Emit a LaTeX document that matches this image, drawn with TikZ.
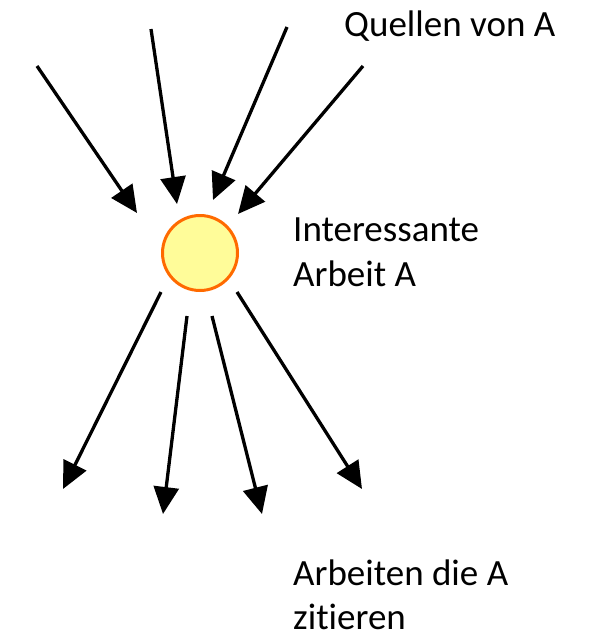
\documentclass[tikz,border=0pt]{standalone}
\usepackage{fontspec}
\setmainfont{Carlito}[Ligatures=NoCommon]
\usetikzlibrary{arrows.meta}
\definecolor{paperfill}{HTML}{FFFC99}
\definecolor{paperedge}{HTML}{FF6A00}
\tikzset{
  cite/.style={line width=3.3pt, draw=black,
    -{Triangle[length=27pt,width=25pt]}},
  label/.style={anchor=base west, inner sep=0pt, align=left,
    font=\fontsize{37}{45}\selectfont},
  paper/.style={circle, minimum size=75pt, inner sep=0pt,
    fill=paperfill, draw=paperedge, line width=3pt}
}
\begin{document}
\begin{tikzpicture}[x=1pt,y=-1pt]
  \useasboundingbox (0,0) rectangle (592,637);
  \node[paper] (a) at (200,253) {};

  % sources of A
  \coordinate (s1) at (37,66);   \coordinate (t1) at (137,213);
  \coordinate (s2) at (151,29);  \coordinate (t2) at (177,204);
  \coordinate (s3) at (287,27);  \coordinate (t3) at (213,200);
  \coordinate (s4) at (363,66);  \coordinate (t4) at (238,214);
  \foreach \i in {1,...,4} \draw[cite] (s\i) -- (t\i);

  % works citing A
  \coordinate (c1) at (161,292); \coordinate (d1) at (63,489);
  \coordinate (c2) at (187,316); \coordinate (d2) at (163,514);
  \coordinate (c3) at (212,316); \coordinate (d3) at (262,514);
  \coordinate (c4) at (237,292); \coordinate (d4) at (362,489);
  \foreach \i in {1,...,4} \draw[cite] (c\i) -- (d\i);

  \node[label] (q) at (344,36) {Quellen von A};
  \node[label] (i1) at (293,241) {Interessante};
  \node[label] (i2) at (293,286) {Arbeit A};
  \node[label] (z1) at (293,585) {Arbeiten die A};
  \node[label] (z2) at (293,629) {zitieren};
\end{tikzpicture}
\end{document}
